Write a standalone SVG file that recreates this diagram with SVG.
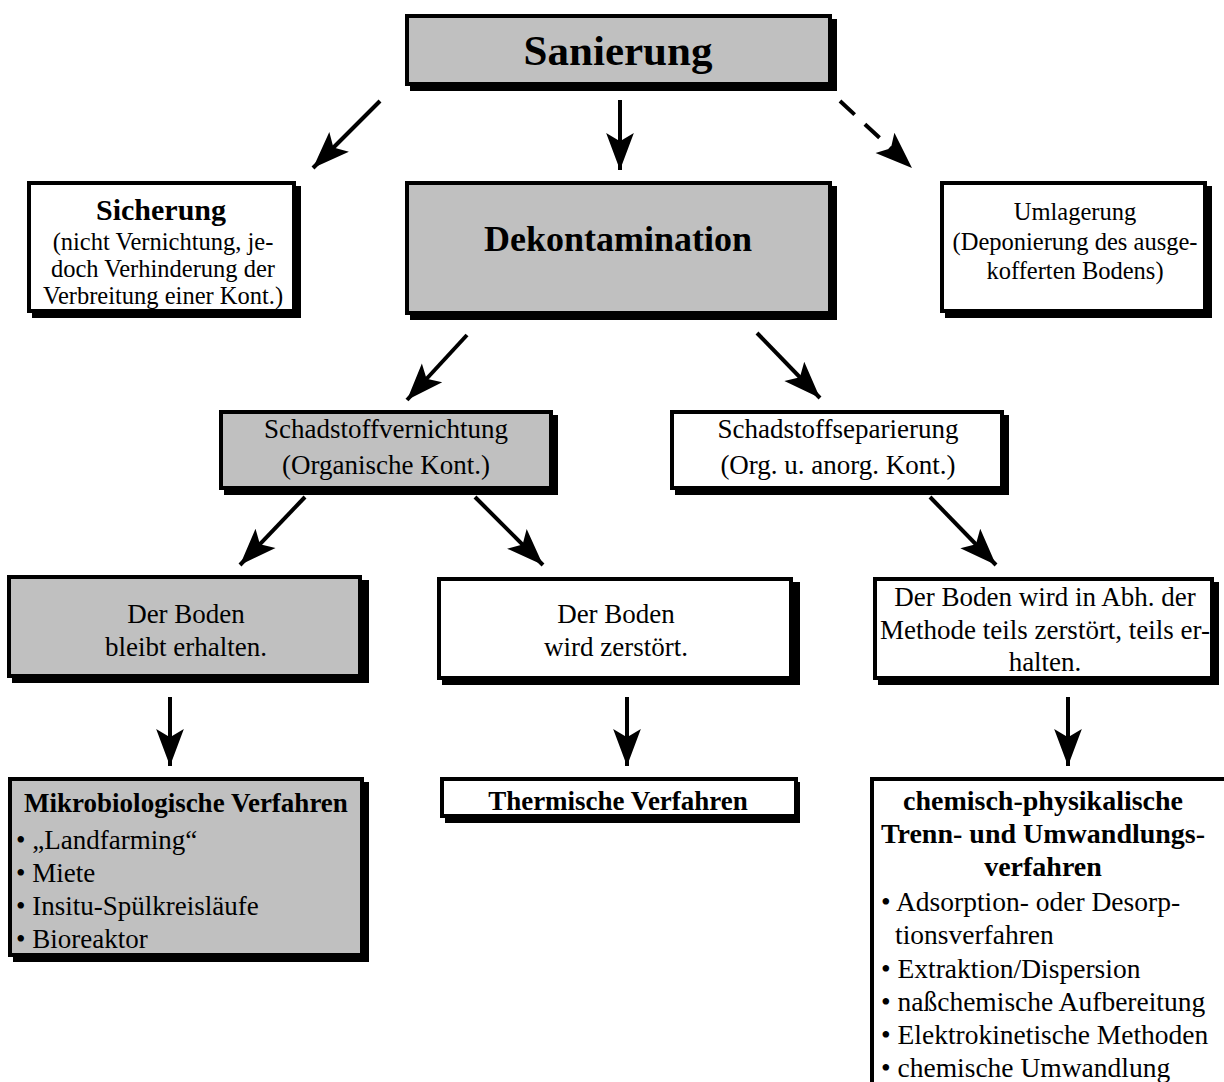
<svg xmlns="http://www.w3.org/2000/svg" width="1224" height="1082" viewBox="0 0 1224 1082">
<style>
text{font-family:"Liberation Serif","Times New Roman",serif;fill:#000}
.t{font-size:27px;text-anchor:middle}
.s{font-size:24.5px;text-anchor:middle}
.l{font-size:27px}
.m{font-size:27.5px}
.b{font-weight:bold}
.c{text-anchor:middle}
.sh{fill:#000}
.fg{fill:#c0c0c0;stroke:#000;stroke-width:4}
.fw{fill:#fff;stroke:#000;stroke-width:4}
.ar{stroke:#000;stroke-width:4;fill:none;marker-end:url(#ah)}
</style>
<defs>
<marker id="ah" markerUnits="userSpaceOnUse" markerWidth="40" markerHeight="30" viewBox="-32 -13 34 26" refX="0" refY="0" orient="auto">
<path d="M0,0 L-32,-12 L-25,0 L-32,12 Z" fill="#000"/>
</marker>
</defs>
<rect width="1224" height="1082" fill="#fff"/>
<g id="connectors">
<line class="ar" x1="380" y1="101" x2="313" y2="168"/>
<line class="ar" x1="620" y1="100" x2="620" y2="170"/>
<line class="ar" x1="840" y1="101" x2="912" y2="168" stroke-dasharray="20,14"/>
<line class="ar" x1="467" y1="335" x2="407" y2="400"/>
<line class="ar" x1="757" y1="333" x2="820" y2="398"/>
<line class="ar" x1="305" y1="497" x2="240" y2="565"/>
<line class="ar" x1="475" y1="497" x2="543" y2="565"/>
<line class="ar" x1="930" y1="497" x2="996" y2="565"/>
<line class="ar" x1="170" y1="697" x2="170" y2="766"/>
<line class="ar" x1="627" y1="697" x2="627" y2="766"/>
<line class="ar" x1="1068" y1="697" x2="1068" y2="766"/>
</g>
<g id="sanierung">
<rect class="sh" x="410" y="19" width="427" height="72"/>
<rect class="fg" x="407" y="16" width="423" height="68"/>
<text class="b c" x="618" y="65" font-size="43">Sanierung</text>
</g>
<g id="sicherung">
<rect class="sh" x="32" y="186" width="269" height="132"/>
<rect class="fw" x="29" y="183" width="265" height="128"/>
<text class="b c" x="161" y="220" font-size="30">Sicherung</text>
<text class="s" x="163" y="250">(nicht Vernichtung, je-</text>
<text class="s" x="163" y="277">doch Verhinderung der</text>
<text class="s" x="163" y="304">Verbreitung einer Kont.)</text>
</g>
<g id="dekontamination">
<rect class="sh" x="410" y="186" width="427" height="134"/>
<rect class="fg" x="407" y="183" width="423" height="130"/>
<text class="b c" x="618" y="251" font-size="36">Dekontamination</text>
</g>
<g id="umlagerung">
<rect class="sh" x="945" y="186" width="267" height="132"/>
<rect class="fw" x="942" y="183" width="263" height="128"/>
<text class="s" x="1075" y="220">Umlagerung</text>
<text class="s" x="1075" y="250">(Deponierung des ausge-</text>
<text class="s" x="1075" y="279">kofferten Bodens)</text>
</g>
<g id="schadstoffvernichtung">
<rect class="sh" x="224" y="415" width="334" height="80"/>
<rect class="fg" x="221" y="412" width="330" height="76"/>
<text class="t" x="386" y="438">Schadstoffvernichtung</text>
<text class="t" x="386" y="474">(Organische Kont.)</text>
</g>
<g id="schadstoffseparierung">
<rect class="sh" x="675" y="415" width="334" height="80"/>
<rect class="fw" x="672" y="412" width="330" height="76"/>
<text class="t" x="838" y="438">Schadstoffseparierung</text>
<text class="t" x="838" y="474">(Org. u. anorg. Kont.)</text>
</g>
<g id="boden-erhalten">
<rect class="sh" x="12" y="580" width="357" height="103"/>
<rect class="fg" x="9" y="577" width="351" height="99"/>
<text class="t" x="186" y="623">Der Boden</text>
<text class="t" x="186" y="656">bleibt erhalten.</text>
</g>
<g id="boden-zerstoert">
<rect class="sh" x="442" y="582" width="358" height="103"/>
<rect class="fw" x="439" y="579" width="352" height="99"/>
<text class="t" x="616" y="623">Der Boden</text>
<text class="t" x="616" y="656">wird zerstört.</text>
</g>
<g id="boden-teils">
<rect class="sh" x="878" y="582" width="341" height="103"/>
<rect class="fw" x="875" y="579" width="337" height="99"/>
<text class="t" x="1045" y="606">Der Boden wird in Abh. der</text>
<text class="t" x="1045" y="639">Methode teils zerstört, teils er-</text>
<text class="t" x="1045" y="671">halten.</text>
</g>
<g id="mikrobiologische-verfahren">
<rect class="sh" x="13" y="782" width="356" height="180"/>
<rect class="fg" x="10" y="779" width="352" height="176"/>
<text class="b c" x="186" y="812" font-size="27">Mikrobiologische Verfahren</text>
<text class="l" x="16" y="849">• „Landfarming“</text>
<text class="l" x="16" y="882">• Miete</text>
<text class="l" x="16" y="915">• Insitu-Spülkreisläufe</text>
<text class="l" x="16" y="948">• Bioreaktor</text>
</g>
<g id="thermische-verfahren">
<rect class="sh" x="445" y="782" width="355" height="41"/>
<rect class="fw" x="442" y="779" width="354" height="37"/>
<text class="b c" x="618" y="810" font-size="27">Thermische Verfahren</text>
</g>
<g id="chemisch-physikalische-verfahren">
<rect class="fw" x="872" y="779" width="400" height="400"/>
<text class="b c" x="1043" y="810" font-size="28">chemisch-physikalische</text>
<text class="b c" x="1043" y="843" font-size="28">Trenn- und Umwandlungs-</text>
<text class="b c" x="1043" y="876" font-size="28">verfahren</text>
<text class="m" x="881" y="911">• Adsorption- oder Desorp-</text>
<text class="m" x="895" y="944">tionsverfahren</text>
<text class="m" x="881" y="978">• Extraktion/Dispersion</text>
<text class="m" x="881" y="1011">• naßchemische Aufbereitung</text>
<text class="m" x="881" y="1044">• Elektrokinetische Methoden</text>
<text class="m" x="881" y="1077">• chemische Umwandlung</text>
</g>
</svg>
